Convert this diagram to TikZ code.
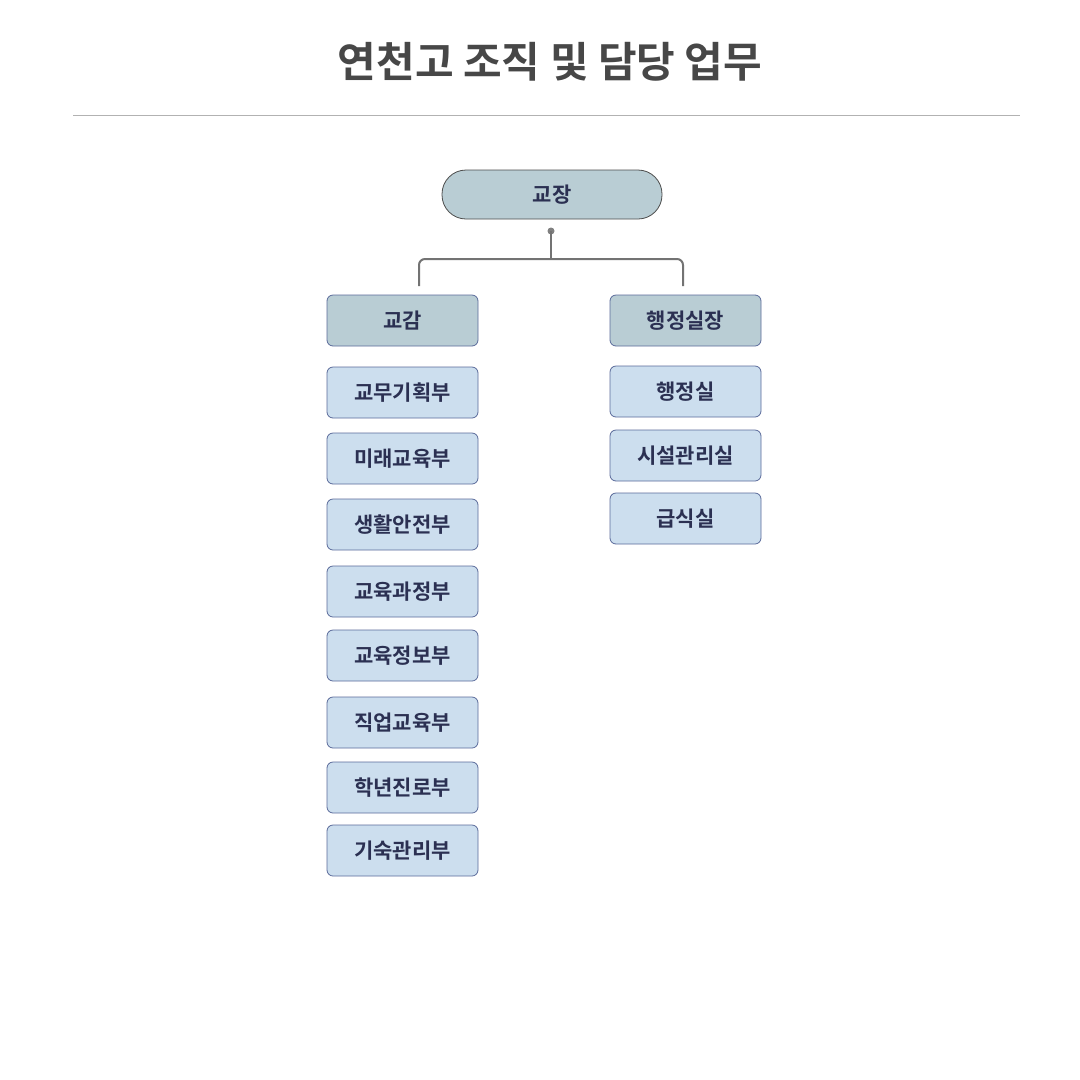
\documentclass[tikz,border=0pt]{standalone}
\usepackage{fontspec}
\newfontfamily\cjk{Noto Sans CJK KR}[BoldFont={* Bold}]
\begin{document}
\begin{tikzpicture}[x=1pt,y=-1pt,
  head/.style={draw=#1,fill=hd,rounded corners=6pt,line width=0.8pt,text=txt,font=\cjk\bfseries\fontsize{21}{24}\selectfont},
  sub/.style={draw=bd,fill=sb,rounded corners=6pt,line width=0.8pt,text=txt,font=\cjk\bfseries\fontsize{21}{24}\selectfont,minimum width=151pt,minimum height=51pt},
  conn/.style={draw=gray!90!black,line width=2pt,rounded corners=6pt}]
\definecolor{hd}{HTML}{B9CDD4}\definecolor{sb}{HTML}{CCDEEE}\definecolor{bd}{HTML}{5A6A9A}\definecolor{txt}{HTML}{2B3052}
\useasboundingbox (0,0) rectangle (1080,1080);
\node[font=\cjk\bfseries\fontsize{42}{48}\selectfont,text=black!72] (title) at (550,62) {연천고 조직 및 담당 업무};
\draw[black!30,line width=1pt] (73,115) coordinate (l1) -- (1020,115) coordinate (l2);
\node[head=black!70,rounded corners=24pt,minimum width=220pt,minimum height=49pt] (p) at (552,194.5) {교장};
\node[head=bd,minimum width=151pt,minimum height=51pt] (vp) at (402.5,320.5) {교감};
\node[head=bd,minimum width=151pt,minimum height=51pt] (ad) at (685.5,320.5) {행정실장};
\coordinate (dot) at (551,231);
\coordinate (la) at (419,286); \coordinate (ra) at (683,286);
\fill[gray] (dot) circle (3.5pt);
\draw[conn] (dot) -- (551,259);
\draw[conn] (la) |- (551,259) -| (ra);
\foreach \n/\y/\t in {a/392.5/교무기획부,b/458.5/미래교육부,c/524.5/생활안전부,d/591.5/교육과정부,e/655.5/교육정보부,f/722.5/직업교육부,g/787.5/학년진로부,h/850.5/기숙관리부}
  \node[sub] (\n) at (402.5,\y) {\t};
\foreach \n/\y/\t in {r1/391.5/행정실,r2/455.5/시설관리실,r3/518.5/급식실}
  \node[sub] (\n) at (685.5,\y) {\t};
\end{tikzpicture}
\end{document}
